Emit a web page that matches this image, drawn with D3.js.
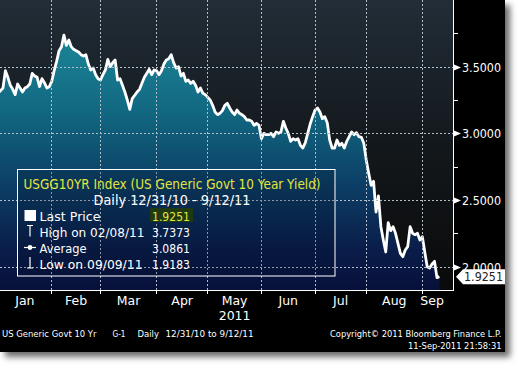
<!DOCTYPE html>
<html>
<head>
<meta charset="utf-8">
<script src="https://cdn.jsdelivr.net/npm/d3@7"></script>
<style>
    html, body { margin: 0; padding: 0; background: #fff; }
    svg { display: block; }
</style>
</head>
<body>
<div id="chart"></div>
<script>
// trading calendar (weekdays between these dates)
const tradingStart = '2010-12-31';
const tradingEnd = '2011-09-12';

const monthLabels = ['Jan', 'Feb', 'Mar', 'Apr', 'May', 'Jun', 'Jul', 'Aug', 'Sep'];
const yearLabel = '2011';

// daily close, one value per weekday
const yieldValues = [
    3.30, 3.32, 3.34, 3.47, 3.42, 3.36, 3.33, 3.29, 3.37, 3.34,
    3.31, 3.34, 3.35, 3.37, 3.45, 3.43, 3.42, 3.35, 3.41, 3.38,
    3.34, 3.35, 3.39, 3.47, 3.54, 3.62, 3.65, 3.737, 3.66, 3.70,
    3.65, 3.63, 3.62, 3.61, 3.59, 3.58, 3.59, 3.52, 3.475, 3.49,
    3.44, 3.41, 3.40, 3.44, 3.475, 3.555, 3.50, 3.53, 3.55, 3.40,
    3.41, 3.36, 3.31, 3.25, 3.18, 3.26, 3.285, 3.31, 3.33, 3.375,
    3.42, 3.45, 3.48, 3.44, 3.475, 3.47, 3.44, 3.47, 3.52, 3.55,
    3.56, 3.59, 3.53, 3.49, 3.50, 3.43, 3.45, 3.39, 3.40, 3.375,
    3.39, 3.36, 3.31, 3.34, 3.30, 3.29, 3.27, 3.25, 3.21, 3.16,
    3.14, 3.15, 3.17, 3.21, 3.225, 3.19, 3.16, 3.14, 3.175, 3.15,
    3.14, 3.125, 3.10, 3.10, 3.09, 3.06, 3.075, 3.06, 2.96, 3.00,
    2.99, 2.99, 3.00, 2.975, 3.01, 3.00, 3.01, 3.09, 3.04, 3.00,
    2.94, 2.96, 2.95, 2.96, 2.91, 2.89, 2.93, 3.00, 3.07, 3.125,
    3.175, 3.19, 3.16, 3.11, 3.125, 3.08, 2.95, 2.89, 2.89, 2.95,
    2.91, 2.925, 2.89, 2.94, 2.975, 3.01, 2.99, 3.005, 2.975, 2.97,
    2.925, 2.80, 2.70, 2.61, 2.64, 2.41, 2.53, 2.30, 2.20, 2.11,
    2.33, 2.27, 2.30, 2.25, 2.175, 2.10, 2.075, 2.125, 2.15, 2.30,
    2.25, 2.24, 2.25, 2.20, 2.225, 2.11, 2.00, 1.99, 2.02, 2.04,
    1.918, 1.925
];

const majorTicks = [2.0, 2.5, 3.0, 3.5];
const minorTicks = [2.25, 2.75, 3.25, 3.75];
const lastPrice = 1.9251;

const legendTitle = 'USGG10YR Index (US Generic Govt 10 Year Yield)';
const legendPeriod = 'Daily 12/31/10 - 9/12/11';
const legendLabels = ['Last Price', 'High on 02/08/11', 'Average', 'Low on 09/09/11'];
const legendValues = ['1.9251', '3.7373', '3.0861', '1.9183'];

const footerLeft = ['US Generic Govt 10 Yr', 'G-1', 'Daily', '12/31/10 to 9/12/11'];
const footerRight = ['Copyright\u00A9 2011 Bloomberg Finance L.P.', '11-Sep-2011 21:58:31'];

const BloombergChart = (function() {
    'use strict';

    const W = 520;
    const H = 367;
    const panel = { w: 505, h: 352 };
    const plot = { w: 453, h: 290 };
    const FONT = '"DejaVu Sans", Verdana, sans-serif';

    let svg = null;
    let x = null;
    let y = null;
    let days = [];

    /**
     * build the trading-day list
     */
    function buildCalendar() {
        const parse = d3.timeParse('%Y-%m-%d');
        const end = d3.timeDay.offset(parse(tradingEnd), 1);
        days = d3.timeDay.range(parse(tradingStart), end)
            .filter(d => d.getDay() !== 0 && d.getDay() !== 6);
    }

    /**
     * scales
     */
    function createScales() {
        x = d3.scaleLinear()
            .domain([0, days.length - 1])
            .range([-1.9, 439.4]);

        y = d3.scaleLinear()
            .domain([1.825, 4.0])
            .range([plot.h, 0]);
    }

    // pixel-snapped helpers
    const sy = d => Math.round(y(d)) + 0.5;
    const sx = d => Math.floor(x(d)) + 0.5;

    /**
     * svg, frame and shadow
     */
    function createSVG() {
        svg = d3.select('#chart')
            .append('svg')
            .attr('width', W)
            .attr('height', H)
            .style('font-family', FONT);

        const defs = svg.append('defs');

        defs.append('filter')
            .attr('id', 'shadow')
            .attr('x', '-5%').attr('y', '-5%')
            .attr('width', '115%').attr('height', '115%')
            .append('feGaussianBlur')
            .attr('stdDeviation', 3);

        const bg = defs.append('linearGradient')
            .attr('id', 'bgGrad')
            .attr('gradientUnits', 'userSpaceOnUse')
            .attr('x1', 0).attr('y1', 0).attr('x2', 0).attr('y2', plot.h);
        bg.append('stop').attr('offset', 0).attr('stop-color', '#222d37');
        bg.append('stop').attr('offset', 0.5).attr('stop-color', '#13181c');
        bg.append('stop').attr('offset', 1).attr('stop-color', '#0a0a0a');

        const area = defs.append('linearGradient')
            .attr('id', 'areaGrad')
            .attr('gradientUnits', 'userSpaceOnUse')
            .attr('x1', 0).attr('y1', 20).attr('x2', 0).attr('y2', plot.h);
        area.append('stop').attr('offset', 0).attr('stop-color', '#1d8c9c');
        area.append('stop').attr('offset', 0.35).attr('stop-color', '#116680');
        area.append('stop').attr('offset', 0.6).attr('stop-color', '#0c4066');
        area.append('stop').attr('offset', 0.85).attr('stop-color', '#0a1d4a');
        area.append('stop').attr('offset', 1).attr('stop-color', '#07103a');

        defs.append('clipPath')
            .attr('id', 'plotClip')
            .append('rect')
            .attr('width', plot.w)
            .attr('height', plot.h);

        // drop shadow
        svg.append('rect')
            .attr('x', 5).attr('y', 5)
            .attr('width', panel.w).attr('height', panel.h)
            .attr('fill', '#6a6a6a')
            .attr('filter', 'url(#shadow)');

        svg.append('rect')
            .attr('width', panel.w)
            .attr('height', panel.h)
            .attr('fill', '#000');

        svg.append('rect')
            .attr('width', plot.w)
            .attr('height', plot.h)
            .attr('fill', 'url(#bgGrad)');
    }

    /**
     * month boundaries as trading-day indices
     */
    function monthStarts() {
        const starts = [];
        for (let m = 1; m < monthLabels.length; m++) {
            starts.push(days.findIndex(d => d.getFullYear() === 2011 && d.getMonth() === m));
        }
        return starts;
    }

    /**
     * area + line
     */
    function drawSeries() {
        const g = svg.append('g').attr('clip-path', 'url(#plotClip)');

        const area = d3.area()
            .x((d, i) => x(i))
            .y0(plot.h)
            .y1(d => y(d));

        const line = d3.line()
            .x((d, i) => x(i))
            .y(d => y(d));

        g.append('path')
            .datum(yieldValues)
            .attr('d', area)
            .attr('fill', 'url(#areaGrad)');

        g.append('path')
            .datum(yieldValues)
            .attr('d', line)
            .attr('fill', 'none')
            .attr('stroke', '#fff')
            .attr('stroke-width', 2.8)
            .attr('stroke-linejoin', 'round');
    }

    /**
     * dashed grid as paths, on top of the area
     */
    function drawGrid() {
        const g = svg.append('g')
            .attr('fill', 'none')
            .attr('stroke', '#b4bec6')
            .attr('stroke-width', 1)
            .attr('stroke-dasharray', '2,2');

        g.selectAll('path.h')
            .data(majorTicks)
            .enter()
            .append('path')
            .attr('class', 'h')
            .attr('d', d => `M0,${sy(d)}H${plot.w}`);

        g.selectAll('path.v')
            .data(monthStarts())
            .enter()
            .append('path')
            .attr('class', 'v')
            .attr('d', d => `M${sx(d)},0V${plot.h}`);
    }

    /**
     * right value axis
     */
    function drawYAxis() {
        const g = svg.append('g');

        g.append('path')
            .attr('d', `M${plot.w + 0.5},0V${plot.h + 1}`)
            .attr('stroke', '#fff')
            .attr('fill', 'none');

        g.selectAll('path.minor')
            .data(minorTicks)
            .enter()
            .append('path')
            .attr('class', 'minor')
            .attr('d', d => `M${plot.w},${sy(d)}H${plot.w + 5}`)
            .attr('stroke', '#fff')
            .attr('fill', 'none');

        const fmt = d3.format('.4f');
        const ticks = g.selectAll('g.major')
            .data(majorTicks)
            .join('g')
            .attr('class', 'major')
            .attr('transform', d => `translate(${plot.w},${sy(d)})`);

        ticks.append('path')
            .attr('d', 'M1,-3L8,0L1,3Z')
            .attr('fill', '#fff');

        ticks.append('text')
            .attr('x', 9)
            .attr('dy', '0.36em')
            .attr('fill', '#fff')
            .attr('font-size', 11.5)
            .attr('textLength', 39)
            .attr('lengthAdjust', 'spacingAndGlyphs')
            .text(d => fmt(d));

        // last price tag, drawn over the 2.0000 label as in the original
        const ly = y(lastPrice);
        const tag = svg.append('g').attr('transform', `translate(${plot.w + 2},${ly})`);
        tag.append('path')
            .attr('d', 'M1,0L8,-7.5L50,-7.5L50,7.5L8,7.5Z')
            .attr('fill', '#fff');
        tag.append('text')
            .attr('x', 9)
            .attr('dy', '0.36em')
            .attr('fill', '#222')
            .attr('font-size', 11.5)
            .attr('textLength', 39)
            .attr('lengthAdjust', 'spacingAndGlyphs')
            .text(fmt(lastPrice));
    }

    /**
     * bottom month axis
     */
    function drawXAxis() {
        const g = svg.append('g');
        const starts = monthStarts();
        const bounds = [0, ...starts, days.length];

        g.append('path')
            .attr('d', `M0,${plot.h + 0.5}H${plot.w + 1}`)
            .attr('stroke', '#fff')
            .attr('fill', 'none');

        g.selectAll('path.tick')
            .data(starts)
            .enter()
            .append('path')
            .attr('class', 'tick')
            .attr('d', d => `M${sx(d)},${plot.h}V${plot.h + 4}`)
            .attr('stroke', '#fff')
            .attr('fill', 'none');

        g.selectAll('text.month')
            .data(monthLabels)
            .join('text')
            .attr('class', 'month')
            .attr('x', (d, i) => (x(bounds[i]) + x(bounds[i + 1])) / 2)
            .attr('y', 305)
            .attr('text-anchor', 'middle')
            .attr('fill', '#fff')
            .attr('font-size', 12.5)
            .text(d => d);

        const mayIdx = monthLabels.indexOf('May');
        g.append('text')
            .attr('x', (x(bounds[mayIdx]) + x(bounds[mayIdx + 1])) / 2)
            .attr('y', 320)
            .attr('text-anchor', 'middle')
            .attr('fill', '#fff')
            .attr('font-size', 12.5)
            .text(yearLabel);
    }

    /**
     * legend box
     */
    function drawLegend() {
        const g = svg.append('g');

        g.append('rect')
            .attr('x', 17.5).attr('y', 169.5)
            .attr('width', 317.5).attr('height', 106.5)
            .attr('fill', '#000820')
            .attr('fill-opacity', 0.2)
            .attr('stroke', '#fff');

        g.append('text')
            .attr('x', 23.5).attr('y', 188.5)
            .attr('fill', '#e2e63c')
            .attr('font-size', 13.5)
            .attr('textLength', 297)
            .attr('lengthAdjust', 'spacingAndGlyphs')
            .text(legendTitle);

        g.append('text')
            .attr('x', 93.5).attr('y', 205)
            .attr('fill', '#fff')
            .attr('font-size', 13.5)
            .attr('textLength', 157)
            .attr('lengthAdjust', 'spacingAndGlyphs')
            .text(legendPeriod);

        const rowY = [220.5, 236.5, 252.5, 268.5];
        const labelW = [61, 105, 47, 103];

        // value highlight for last price
        g.append('rect')
            .attr('x', 150).attr('y', 208)
            .attr('width', 43).attr('height', 14)
            .attr('fill', '#1f3a12');

        legendLabels.forEach((lab, i) => {
            g.append('text')
                .attr('x', 39.5).attr('y', rowY[i])
                .attr('fill', '#fff')
                .attr('font-size', 13)
                .attr('textLength', labelW[i])
                .attr('lengthAdjust', 'spacingAndGlyphs')
                .text(lab);

            g.append('text')
                .attr('x', 152).attr('y', rowY[i])
                .attr('fill', i === 0 ? '#e2e63c' : '#fff')
                .attr('font-size', 13)
                .attr('textLength', 38)
                .attr('lengthAdjust', 'spacingAndGlyphs')
                .text(legendValues[i]);
        });

        // icons
        g.append('rect')
            .attr('x', 24.5).attr('y', 210)
            .attr('width', 11.5).attr('height', 11)
            .attr('fill', '#fff');

        const icon = g.append('g')
            .attr('stroke', '#fff')
            .attr('stroke-width', 1.2)
            .attr('fill', 'none');
        icon.append('path').attr('d', 'M27,225.5H33M30,225.5V236.5');
        icon.append('path').attr('d', 'M24,247.5H36');
        icon.append('circle').attr('cx', 30).attr('cy', 247.5).attr('r', 1.8).attr('fill', '#fff');
        icon.append('path').attr('d', 'M30,257V268H27H33');
    }

    /**
     * footer texts
     */
    function drawFooter() {
        const g = svg.append('g')
            .attr('fill', '#fff')
            .attr('font-size', 9);

        const leftX = [2, 112.5, 137.5, 165.5];
        const leftW = [94.5, 13, 21.5, 88];
        footerLeft.forEach((t, i) => {
            g.append('text')
                .attr('x', leftX[i]).attr('y', 336.5)
                .attr('textLength', leftW[i])
                .attr('lengthAdjust', 'spacingAndGlyphs')
                .text(t);
        });

        g.append('text')
            .attr('x', 330).attr('y', 336.5)
            .attr('textLength', 171.5)
            .attr('lengthAdjust', 'spacingAndGlyphs')
            .text(footerRight[0]);

        g.append('text')
            .attr('x', 408).attr('y', 348.5)
            .attr('textLength', 93.5)
            .attr('lengthAdjust', 'spacingAndGlyphs')
            .text(footerRight[1]);
    }

    function init() {
        buildCalendar();
        createScales();
        createSVG();
        drawSeries();
        drawGrid();
        drawXAxis();
        drawYAxis();
        drawLegend();
        drawFooter();
    }

    return { init };
})();

BloombergChart.init();
</script>
</body>
</html>
